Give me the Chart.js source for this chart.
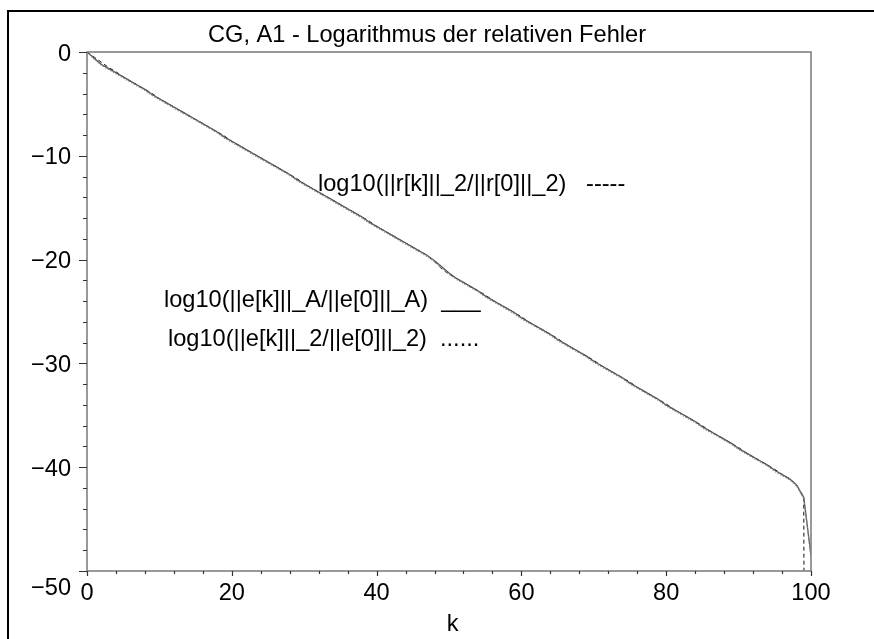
<!DOCTYPE html>
<html>
<head>
<meta charset="utf-8">
<title>CG, A1 - Logarithmus der relativen Fehler</title>
<script src="https://cdn.jsdelivr.net/npm/chart.js@4.4.1/dist/chart.umd.min.js"></script>
<style>
  html, body { margin: 0; padding: 0; background: #fff; }
  #wrap { position: relative; width: 874px; height: 639px; }
</style>
</head>
<body>
<div id="wrap"><canvas id="cgChart" width="874" height="639"></canvas></div>
<script>
"use strict";

// ~ Data
const kValues = [
  0, 1, 2, 3, 4, 5, 6, 7, 8, 9, 10, 11, 12, 13, 14, 15, 16, 17, 18, 19, 20,
  21, 22, 23, 24, 25, 26, 27, 28, 29, 30, 31, 32, 33, 34, 35, 36, 37, 38, 39, 40,
  41, 42, 43, 44, 45, 46, 47, 48, 49, 50, 51, 52, 53, 54, 55, 56, 57, 58, 59, 60,
  61, 62, 63, 64, 65, 66, 67, 68, 69, 70, 71, 72, 73, 74, 75, 76, 77, 78, 79, 80,
  81, 82, 83, 84, 85, 86, 87, 88, 89, 90, 91, 92, 93, 94, 95, 96, 97, 98, 99, 100
];

// log10(||e[k]||_A/||e[0]||_A)  (solid)
const errA = [
  0, -0.6, -1.2, -1.6, -2.0, -2.4, -2.8, -3.2, -3.6, -4.1, -4.5,
  -4.9, -5.3, -5.7, -6.1, -6.5, -6.9, -7.3, -7.7, -8.2, -8.6,
  -9.0, -9.4, -9.8, -10.2, -10.6, -11.0, -11.4, -11.8, -12.3, -12.7,
  -13.1, -13.5, -13.9, -14.3, -14.7, -15.1, -15.5, -15.9, -16.4, -16.8,
  -17.2, -17.6, -18.0, -18.4, -18.8, -19.2, -19.6, -20.1, -20.7, -21.3,
  -21.8, -22.2, -22.6, -23.0, -23.5, -23.9, -24.3, -24.7, -25.1, -25.6,
  -26.0, -26.4, -26.8, -27.2, -27.7, -28.1, -28.5, -28.9, -29.3, -29.8,
  -30.2, -30.6, -31.0, -31.4, -31.9, -32.3, -32.7, -33.1, -33.5, -34.0,
  -34.4, -34.8, -35.2, -35.6, -36.1, -36.5, -36.9, -37.3, -37.7, -38.2,
  -38.6, -39.0, -39.4, -39.8, -40.3, -40.7, -41.1, -41.7, -42.9, -48.5
];

// log10(||r[k]||_2/||r[0]||_2)  (dashed), drops off the scale at k = 100
const resid = [
  0, -0.5, -1.0, -1.5, -1.9, -2.4, -2.8, -3.2, -3.6, -4.0, -4.5,
  -4.9, -5.3, -5.7, -6.1, -6.5, -6.9, -7.3, -7.7, -8.1, -8.6,
  -9.0, -9.4, -9.8, -10.2, -10.6, -11.0, -11.4, -11.8, -12.2, -12.7,
  -13.1, -13.5, -13.9, -14.3, -14.7, -15.1, -15.5, -15.9, -16.3, -16.8,
  -17.2, -17.6, -18.0, -18.4, -18.8, -19.2, -19.6, -20.2, -20.9, -21.4,
  -21.8, -22.2, -22.6, -23.0, -23.4, -23.9, -24.3, -24.7, -25.1, -25.5,
  -26.0, -26.4, -26.8, -27.2, -27.6, -28.1, -28.5, -28.9, -29.3, -29.7,
  -30.2, -30.6, -31.0, -31.4, -31.8, -32.3, -32.7, -33.1, -33.5, -33.9,
  -34.4, -34.8, -35.2, -35.6, -36.0, -36.5, -36.9, -37.3, -37.7, -38.1,
  -38.6, -39.0, -39.4, -39.8, -40.2, -40.7, -41.1, -41.7, -43.0, -300
];

// log10(||e[k]||_2/||e[0]||_2)  (dotted)
const err2 = [
  0, -0.7, -1.3, -1.7, -2.1, -2.5, -2.9, -3.3, -3.7, -4.2, -4.6,
  -5.0, -5.4, -5.8, -6.2, -6.6, -7.0, -7.4, -7.8, -8.3, -8.7,
  -9.1, -9.5, -9.9, -10.3, -10.7, -11.1, -11.5, -11.9, -12.4, -12.8,
  -13.2, -13.6, -14.0, -14.4, -14.8, -15.2, -15.6, -16.0, -16.5, -16.9,
  -17.3, -17.7, -18.1, -18.5, -18.9, -19.3, -19.7, -20.2, -20.8, -21.4,
  -21.9, -22.3, -22.7, -23.1, -23.6, -24.0, -24.4, -24.8, -25.2, -25.7,
  -26.1, -26.5, -26.9, -27.3, -27.8, -28.2, -28.6, -29.0, -29.4, -29.9,
  -30.3, -30.7, -31.1, -31.5, -32.0, -32.4, -32.8, -33.2, -33.6, -34.1,
  -34.5, -34.9, -35.3, -35.7, -36.2, -36.6, -37.0, -37.4, -37.8, -38.3,
  -38.7, -39.1, -39.5, -39.9, -40.4, -40.8, -41.2, -41.8, -43.0, -48.6
];

const xTicks = [0, 20, 40, 60, 80, 100];
const yTicks = [0, -10, -20, -30, -40, -50];

const titleText = "CG, A1 - Logarithmus der relativen Fehler";
const xLabelText = "k";
const legendTexts = [
  "log10(||r[k]||_2/||r[0]||_2)   -----",
  "log10(||e[k]||_A/||e[0]||_A)  ___",
  "log10(||e[k]||_2/||e[0]||_2)  ......"
];

// ~ Styling
const FONT = '23.6px "Liberation Sans", Arial, Helvetica, sans-serif';
const AXIS_GREY = "#808080";

function pts(ys) {
  return kValues.map((k, i) => ({ x: k, y: ys[i] }));
}

// ! Maple-like frame, box, ticks and texts, placed through the chart scales
const maplePlot = {
  id: "maplePlot",
  beforeDraw(chart) {
    const ctx = chart.ctx;
    ctx.save();
    ctx.fillStyle = "#fff";
    ctx.fillRect(0, 0, chart.width, chart.height);
    ctx.strokeStyle = "#000";
    ctx.lineWidth = 2;
    ctx.beginPath();
    ctx.moveTo(8, chart.height + 2);
    ctx.lineTo(8, 11);
    ctx.lineTo(chart.width + 2, 11);
    ctx.stroke();
    ctx.restore();
  },
  afterDraw(chart) {
    const ctx = chart.ctx;
    const xs = chart.scales.x;
    const ys = chart.scales.y;
    const a = chart.chartArea;
    ctx.save();

    // box
    ctx.strokeStyle = AXIS_GREY;
    ctx.lineWidth = 1.6;
    ctx.strokeRect(a.left, a.top, a.right - a.left, a.bottom - a.top);

    // x ticks (minor every 4, major every 20)
    ctx.lineWidth = 1.2;
    ctx.strokeStyle = "#333";
    ctx.beginPath();
    for (let k = xs.min; k <= xs.max; k += 4) {
      const px = Math.round(xs.getPixelForValue(k)) + 0.5;
      ctx.moveTo(px, a.bottom);
      ctx.lineTo(px, a.bottom + 3);
    }
    xTicks.forEach((k) => {
      const px = Math.round(xs.getPixelForValue(k)) + 0.5;
      ctx.moveTo(px, a.bottom);
      ctx.lineTo(px, a.bottom + 5);
    });
    // y ticks (minor every 2, major every 10)
    for (let v = ys.min; v <= ys.max; v += 2) {
      const py = Math.round(ys.getPixelForValue(v)) + 0.5;
      ctx.moveTo(a.left - 4, py);
      ctx.lineTo(a.left, py);
    }
    yTicks.forEach((v) => {
      const py = Math.round(ys.getPixelForValue(v)) + 0.5;
      ctx.moveTo(a.left - 8, py);
      ctx.lineTo(a.left, py);
    });
    ctx.stroke();

    ctx.fillStyle = "#000";
    ctx.font = FONT;

    // x tick labels
    ctx.textAlign = "center";
    ctx.textBaseline = "middle";
    xTicks.forEach((k) => {
      ctx.fillText(String(k), xs.getPixelForValue(k), a.bottom + 22);
    });

    // y tick labels (Maple pushes the lowest one down)
    ctx.textAlign = "right";
    yTicks.forEach((v) => {
      const label = v < 0 ? "\u2212" + Math.abs(v) : String(v);
      let py = ys.getPixelForValue(v);
      if (v === ys.min) py += 15;
      ctx.fillText(label, a.left - 16, py + 2);
    });

    // axis title and chart title
    ctx.textAlign = "center";
    ctx.fillText(xLabelText, xs.getPixelForValue(50.5), a.bottom + 53);
    ctx.fillText(titleText, 427, 35);

    // in-plot legend texts
    ctx.textAlign = "left";
    ctx.fillText(legendTexts[0], 318, 184);
    ctx.fillText(legendTexts[1], 164, 300);
    ctx.fillText(legendTexts[2], 168, 339);

    ctx.restore();
  }
};

document.addEventListener("DOMContentLoaded", function () {
  const ctx = document.getElementById("cgChart").getContext("2d");

  new Chart(ctx, {
    type: "line",
    data: {
      datasets: [
        {
          label: "log10(||e[k]||_2/||e[0]||_2)",
          data: pts(err2),
          borderColor: "#8a8a8a",
          borderWidth: 1.2,
          borderDash: [1.5, 1.5],
          pointRadius: 0,
          tension: 0
        },
        {
          label: "log10(||e[k]||_A/||e[0]||_A)",
          data: pts(errA),
          borderColor: "#555",
          borderWidth: 1.3,
          pointRadius: 0,
          tension: 0
        },
        {
          label: "log10(||r[k]||_2/||r[0]||_2)",
          data: pts(resid),
          borderColor: "#111",
          borderWidth: 1,
          borderDash: [4, 3],
          pointRadius: 0,
          tension: 0
        }
      ]
    },
    options: {
      responsive: false,
      animation: false,
      events: [],
      layout: { padding: { left: 87, top: 52, right: 63, bottom: 68 } },
      plugins: {
        legend: { display: false },
        title: { display: false },
        tooltip: { enabled: false }
      },
      scales: {
        x: { type: "linear", min: 0, max: 100, display: false },
        y: { type: "linear", min: -50, max: 0, display: false }
      }
    },
    plugins: [maplePlot]
  });
});
</script>
</body>
</html>
